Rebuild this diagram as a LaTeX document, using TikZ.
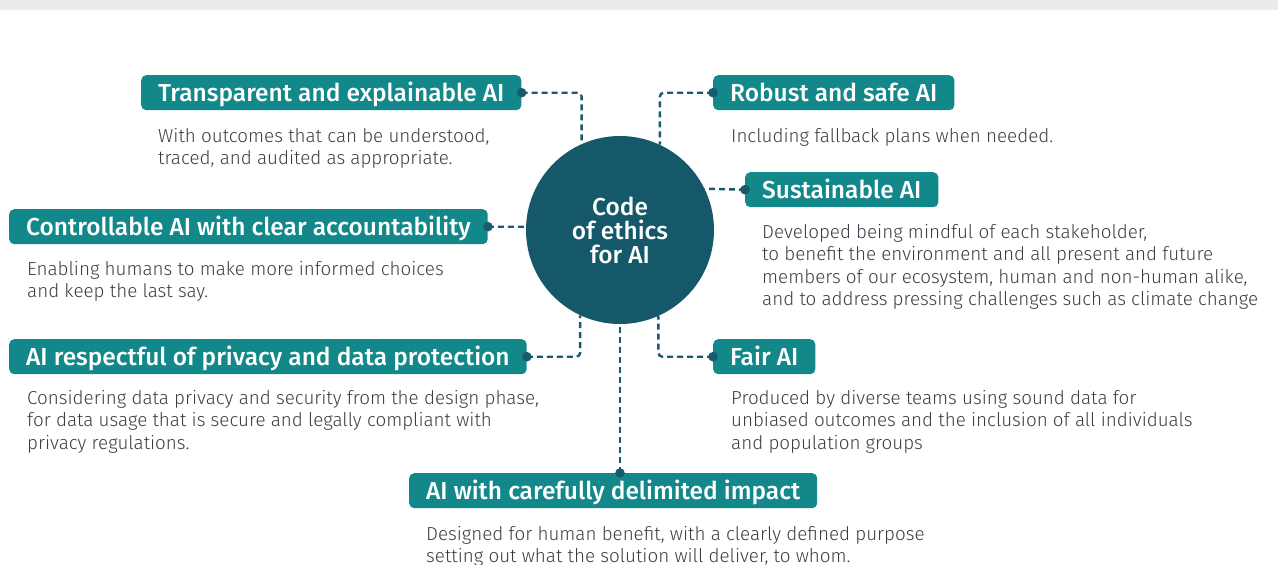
\documentclass[tikz,border=0pt]{standalone}
\usepackage{fontspec}
\setmainfont{Fira Sans Light}[BoldFont={Fira Sans Medium}]
\usepackage{tikz}

\definecolor{headteal}{HTML}{12888A}
\definecolor{hubteal}{HTML}{15586A}
\definecolor{linkteal}{HTML}{1B5A6B}
\definecolor{bodygray}{HTML}{3C3C46}
\definecolor{bandgray}{HTML}{EBEBEB}

\tikzset{
	head/.style={fill=headteal, text=white, rounded corners=5pt, anchor=north west,
		minimum height=35pt, inner xsep=17pt, inner ysep=0pt, text height=17pt, text depth=0pt,
		font=\bfseries\fontsize{24.5}{27}\selectfont},
	desc/.style={anchor=north west, text=bodygray, align=left, inner sep=0pt,
		font=\fontsize{18.8}{22.5}\selectfont},
	link/.style={draw=linkteal, line width=2.4pt, dash pattern=on 6pt off 4pt, rounded corners=4pt},
	pin/.style={fill=linkteal}
}

\begin{document}
\begin{tikzpicture}[x=1pt,y=-1pt]
	\useasboundingbox (0,0) rectangle (1278,565);
	\fill[bandgray] (0,0) rectangle (1278,10);
	\node[circle, fill=hubteal, minimum size=188pt, inner sep=0pt, text=white, align=center,
		font=\bfseries\fontsize{24.5}{24}\selectfont] (ethics) at (620,230) {Code\\of ethics\\for AI};
	\node[head] (trans) at (141,75) {Transparent and explainable AI};
	\node[head] (robust) at (713,75) {Robust and safe AI};
	\node[head] (sust) at (745,172) {Sustainable AI};
	\node[head] (ctrl) at (9,209) {Controllable AI with clear accountability};
	\node[head] (priv) at (9,339) {AI respectful of privacy and data protection};
	\node[head] (fair) at (713,339) {Fair AI};
	\node[head] (impact) at (409,473) {AI with carefully delimited impact};
	\node[desc] (trans-d) at (158,128) {With outcomes that can be understood,\\traced, and audited as appropriate.};
	\node[desc] (robust-d) at (731,128) {Including fallback plans when needed.};
	\node[desc] (sust-d) at (762,224) {Developed being mindful of each stakeholder,\\to benefit the environment and all present and future\\members of our ecosystem, human and non-human alike,\\and to address pressing challenges such as climate change};
	\node[desc] (ctrl-d) at (27,261) {Enabling humans to make more informed choices\\and keep the last say.};
	\node[desc] (priv-d) at (27,390) {Considering data privacy and security from the design phase,\\for data usage that is secure and legally compliant with\\privacy regulations.};
	\node[desc] (fair-d) at (731,390) {Produced by diverse teams using sound data for\\unbiased outcomes and the inclusion of all individuals\\and population groups};
	\node[desc] (impact-d) at (426,526) {Designed for human benefit, with a clearly defined purpose\\setting out what the solution will deliver, to whom.};
	\coordinate (impact-pin) at (ethics.south |- impact.north);
	\draw[link] (trans.east) -| (ethics.114.5);
	\draw[link] (robust.west) -| (ethics.65.5);
	\draw[link] (sust.west) -- (ethics.26);
	\draw[link] (ctrl.east) -- (ethics.178);
	\draw[link] (priv.east) -| (ethics.245.5);
	\draw[link] (fair.west) -| (ethics.294.5);
	\draw[link] (impact-pin) -- (ethics.south);
	\foreach \p in {trans.east, robust.west, sust.west, ctrl.east, priv.east, fair.west, impact-pin}
		\fill[pin] (\p) circle (4.8pt);
\end{tikzpicture}
\end{document}
